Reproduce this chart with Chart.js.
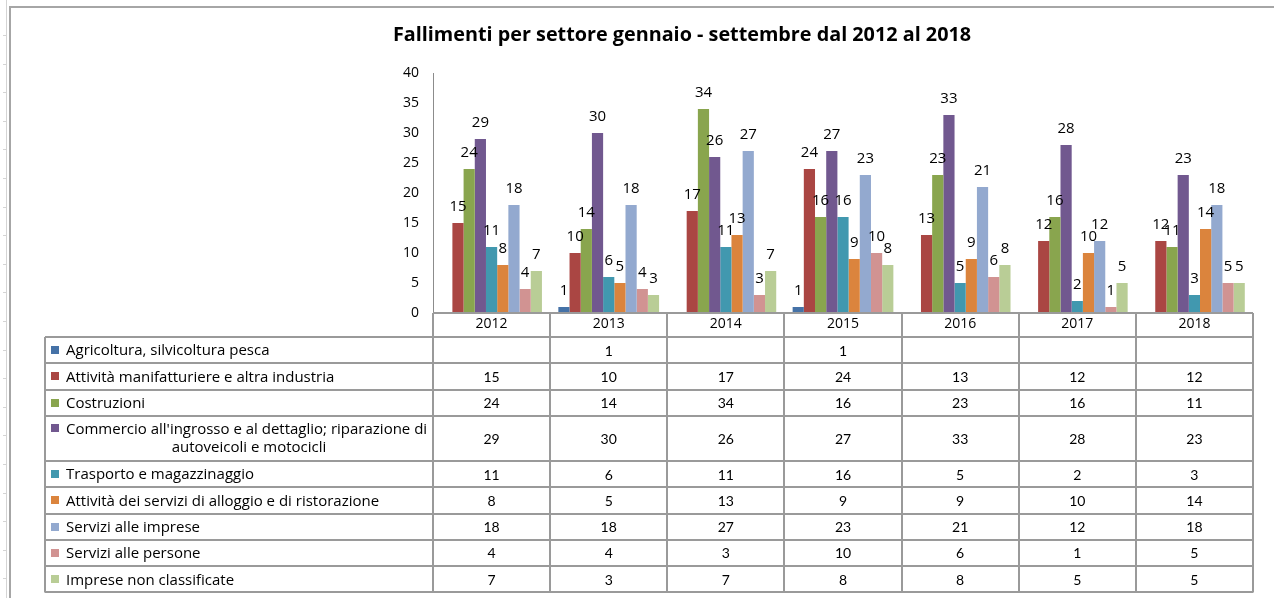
<!DOCTYPE html>
<html>
<head>
<meta charset="utf-8">
<script src="https://cdn.jsdelivr.net/npm/chart.js@4"></script>
<style>
  html, body { margin: 0; padding: 0; background: #fff; }
  #wrap { width: 1274px; height: 598px; position: relative; }
</style>
</head>
<body>
<div id="wrap"><canvas id="c" width="1274" height="598"></canvas></div>
<script>
// ---- Data ----
const years = ['2012', '2013', '2014', '2015', '2016', '2017', '2018'];
const agricoltura     = [null, 1, null, 1, null, null, null];
const manifatturiere  = [15, 10, 17, 24, 13, 12, 12];
const costruzioni     = [24, 14, 34, 16, 23, 16, 11];
const commercio       = [29, 30, 26, 27, 33, 28, 23];
const trasporto       = [11, 6, 11, 16, 5, 2, 3];
const alloggio        = [8, 5, 13, 9, 9, 10, 14];
const serviziImprese  = [18, 18, 27, 23, 21, 12, 18];
const serviziPersone  = [4, 4, 3, 10, 6, 1, 5];
const nonClassificate = [7, 3, 7, 8, 8, 5, 5];
const seriesNames = [
  'Agricoltura, silvicoltura pesca',
  'Attività manifatturiere e altra industria',
  'Costruzioni',
  "Commercio all'ingrosso e al dettaglio; riparazione di autoveicoli e motocicli",
  'Trasporto e magazzinaggio',
  'Attività dei servizi di alloggio e di ristorazione',
  'Servizi alle imprese',
  'Servizi alle persone',
  'Imprese non classificate'
];
const seriesValues = [agricoltura, manifatturiere, costruzioni, commercio, trasporto,
                      alloggio, serviziImprese, serviziPersone, nonClassificate];
const yMin = 0, yMax = 40, yStep = 5;
const titleText = 'Fallimenti per settore gennaio - settembre dal 2012 al 2018';

// ---- Styles ----
const colors = ['#4572A7', '#AA4643', '#89A54E', '#71588F', '#4198AF',
                '#DB843D', '#93A9CF', '#D19392', '#B9CD96'];
const NUM_FONT = '15px "Open Sans", sans-serif';
const TXT_FONT = '15px "Open Sans", sans-serif';
const VAL_FONT = '14px Lato, sans-serif';
const GRID = '#9a9a9a';

const datasets = seriesValues.map((vals, i) => ({
  label: seriesNames[i],
  data: vals,
  backgroundColor: colors[i],
  borderWidth: 0
}));

function wrapText(ctx, text, maxW) {
  const words = text.split(' ');
  const lines = [];
  let cur = '';
  for (const w of words) {
    const t = cur ? cur + ' ' + w : w;
    if (ctx.measureText(t).width > maxW && cur) { lines.push(cur); cur = w; }
    else cur = t;
  }
  if (cur) lines.push(cur);
  return lines;
}

const framePlugin = {
  id: 'frame',
  beforeDraw(chart) {
    const ctx = chart.ctx;
    ctx.save();
    ctx.fillStyle = '#fff';
    ctx.fillRect(0, 0, chart.width, chart.height);
    // sheet-like ruler on the far left
    ctx.strokeStyle = '#d4d4d4';
    ctx.lineWidth = 1;
    ctx.beginPath();
    ctx.moveTo(6.5, 0); ctx.lineTo(6.5, chart.height);
    for (let y = 35; y < chart.height; y += 28.6) {
      ctx.moveTo(3, Math.round(y) + 0.5); ctx.lineTo(7, Math.round(y) + 0.5);
    }
    ctx.stroke();
    // chart frame
    ctx.strokeStyle = '#a6a6a6';
    ctx.lineWidth = 2;
    ctx.beginPath();
    ctx.moveTo(10, chart.height); ctx.lineTo(10, 7); ctx.lineTo(chart.width, 7);
    ctx.stroke();
    ctx.restore();
  },
  afterDatasetsDraw(chart) {
    const ctx = chart.ctx;
    ctx.save();
    ctx.font = NUM_FONT;
    ctx.fillStyle = '#000';
    ctx.textAlign = 'center';
    ctx.textBaseline = 'middle';
    chart.data.datasets.forEach((ds, di) => {
      const meta = chart.getDatasetMeta(di);
      meta.data.forEach((bar, i) => {
        const v = ds.data[i];
        if (v === null || v === undefined) return;
        ctx.fillText(String(v), bar.x, bar.y - 16);
      });
    });
    ctx.restore();
  },
  afterDraw(chart) {
    const ctx = chart.ctx;
    const xs = chart.scales.x;
    const n = years.length;
    const colW = (xs.right - xs.left) / n;
    const tableLeft = 45;
    const tableRight = xs.right;
    const headTop = xs.top;
    const bodyTop = xs.bottom;
    const rowH = 26.3, lineH = 18.7;
    const labelX = 66, labelMax = xs.left - labelX - 1;

    ctx.save();
    // title
    ctx.fillStyle = '#000';
    ctx.font = 'bold 19.8px "Open Sans", sans-serif';
    ctx.textAlign = 'center';
    ctx.textBaseline = 'middle';
    ctx.fillText(titleText, 682, 35);

    // rows
    ctx.font = TXT_FONT;
    const rows = [];
    let y = bodyTop;
    seriesNames.forEach((name) => {
      const lines = wrapText(ctx, name, labelMax);
      const h = rowH + (lines.length - 1) * lineH;
      rows.push({ top: y, h, lines });
      y += h;
    });
    const tableBottom = y;

    // grid lines
    ctx.strokeStyle = GRID;
    ctx.lineWidth = 2;
    ctx.beginPath();
    ctx.moveTo(xs.left, headTop); ctx.lineTo(tableRight, headTop);
    rows.forEach(r => { ctx.moveTo(tableLeft, Math.round(r.top)); ctx.lineTo(tableRight, Math.round(r.top)); });
    ctx.moveTo(tableLeft, Math.round(tableBottom)); ctx.lineTo(tableRight, Math.round(tableBottom));
    ctx.moveTo(tableLeft, bodyTop); ctx.lineTo(tableLeft, tableBottom);
    for (let i = 0; i <= n; i++) {
      const x = Math.round(xs.left + i * colW);
      ctx.moveTo(x, headTop); ctx.lineTo(x, tableBottom);
    }
    ctx.stroke();

    // legend keys, labels and values
    ctx.textBaseline = 'middle';
    rows.forEach((r, si) => {
      const firstLineY = r.lines.length > 1 ? r.top + 12.5 : r.top + r.h / 2;
      ctx.fillStyle = colors[si];
      ctx.fillRect(51, Math.round(firstLineY - 4), 8, 8);
      ctx.fillStyle = '#000';
      ctx.font = TXT_FONT;
      r.lines.forEach((ln, li) => {
        if (li === 0) {
          ctx.textAlign = 'left';
          ctx.fillText(ln, labelX, firstLineY + 1);
        } else {
          ctx.textAlign = 'center';
          ctx.fillText(ln, (tableLeft + xs.left) / 2 + 10, firstLineY + 1 + li * lineH);
        }
      });
      ctx.textAlign = 'center';
      ctx.font = VAL_FONT;
      seriesValues[si].forEach((v, ci) => {
        if (v === null || v === undefined) return;
        ctx.fillText(String(v), xs.getPixelForValue(ci), r.top + r.h / 2 + 1);
      });
    });
    ctx.restore();
  }
};

new Chart(document.getElementById('c'), {
  type: 'bar',
  data: { labels: years, datasets },
  plugins: [framePlugin],
  options: {
    responsive: false,
    animation: false,
    devicePixelRatio: 1,
    layout: { padding: { top: 73, right: 21, bottom: 261, left: 0 } },
    plugins: {
      legend: { display: false },
      title: { display: false },
      tooltip: { enabled: false }
    },
    datasets: { bar: { categoryPercentage: 0.86, barPercentage: 1.0 } },
    scales: {
      x: {
        grid: { display: false, drawTicks: false },
        border: { display: true, color: GRID, width: 1 },
        ticks: { color: '#000', font: { family: 'Open Sans', size: 14 }, padding: 3 },
        afterFit(scale) { scale.height = 24; }
      },
      y: {
        min: yMin, max: yMax,
        grid: { display: false, drawTicks: false },
        border: { display: true, color: '#8c8c8c', width: 1 },
        ticks: { stepSize: yStep, color: '#000', font: { family: 'Open Sans', size: 14 }, padding: 14 },
        afterFit(scale) { scale.width = 433; }
      }
    }
  }
});
</script>
</body>
</html>
